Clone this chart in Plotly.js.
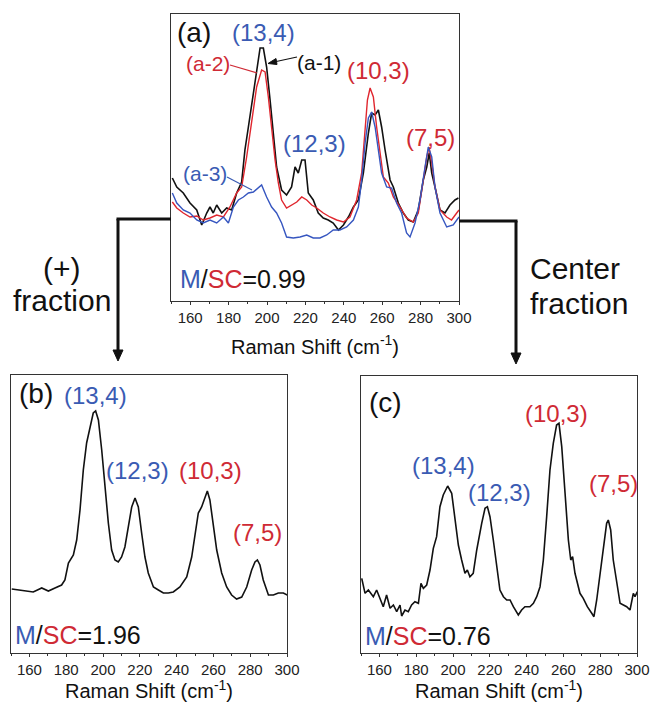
<!DOCTYPE html>
<html>
<head>
<meta charset="utf-8">
<script src="https://cdn.plot.ly/plotly-3.0.1.min.js"></script>
<style>html,body{margin:0;padding:0;background:#fff;}#chart{width:652px;height:702px;}</style>
</head>
<body>
<div id="chart"></div>
<script>
// ---------- Panel (a): three spectra ----------
var aX1 = [150.7,153.0,156.4,159.9,163.4,166.0,168.6,170.3,172.0,173.8,176.4,179.0,181.6,184.2,186.8,188.5,190.3,192.9,194.6,196.4,198.1,199.8,201.6,203.3,205.0,207.6,210.2,212.8,214.6,216.3,218.1,219.8,221.5,224.1,226.7,229.3,231.9,234.5,237.2,239.8,242.4,245.0,247.6,250.2,252.8,254.5,256.3,258.0,259.7,261.5,264.1,265.8,268.4,271.0,273.6,276.2,278.8,281.4,283.2,284.5,285.8,287.5,290.1,292.7,295.3,297.9,299.7];
var aY1 = [123,114,108,98,91,76,88,94,88,96,88,93,91,108,119,151,174,208,234,253,253,234,201,168,134,111,106,114,134,128,141,141,108,101,88,83,81,78,71,76,84,94,101,128,168,188,186,191,174,151,121,114,98,88,81,79,91,121,134,148,128,114,91,88,96,101,103];

var aX2 = [150.7,153.0,156.4,159.9,163.4,166.8,170.3,173.8,177.3,180.7,184.2,186.8,189.4,192.0,194.6,197.2,199.0,200.7,202.4,204.2,205.9,207.6,210.2,212.8,215.5,218.1,220.7,223.3,225.9,229.3,232.8,236.3,239.8,243.2,246.7,249.3,251.1,252.3,253.7,255.4,257.1,258.9,260.6,263.2,265.8,269.3,272.7,276.2,278.8,281.4,283.2,284.4,285.8,287.5,290.1,293.6,296.1,298.8,300.0];
var aY2 = [99,93,88,84,85,81,83,86,84,94,108,114,144,181,214,231,229,204,171,141,118,101,93,96,99,104,101,96,93,88,84,81,79,84,101,128,168,201,213,204,174,148,124,118,104,94,83,79,88,121,144,154,138,114,91,84,81,88,91];

var aX3 = [150.7,153.0,156.4,159.9,163.4,166.8,170.3,173.8,177.3,179.9,182.5,185.1,187.7,190.3,192.9,195.5,197.2,199.8,202.4,205.0,207.6,210.2,213.7,217.2,220.7,224.1,227.6,231.1,234.5,238.0,241.5,245.0,247.6,249.3,251.1,252.8,254.5,256.3,258.0,259.7,262.3,264.9,267.5,270.1,272.7,274.5,277.1,279.7,282.3,284.0,285.8,287.5,290.1,293.6,297.0,300.0];
var aY3 = [108,98,91,88,81,78,81,78,84,78,94,101,104,108,109,113,116,104,94,88,78,64,63,64,66,63,63,66,71,71,74,81,94,121,158,183,189,174,151,128,114,113,98,88,68,64,78,101,134,154,144,114,88,74,76,84];

// ---------- Panel (b): (+) fraction ----------
var bX = [150.4,154.9,160.3,162.1,166.7,170.3,173.9,177.5,179.3,181.2,183.9,185.7,187.5,189.3,191.1,192.9,194.7,196.0,197.5,199.3,201.1,202.9,204.7,206.5,208.3,210.1,211.9,213.8,215.6,217.4,219.2,221.0,222.8,224.6,227.4,230.1,232.8,235.5,238.2,241.8,245.5,248.2,250.0,251.8,253.6,255.4,256.7,258.1,259.9,261.8,264.5,267.2,269.9,272.6,275.4,278.1,280.8,282.6,283.9,285.3,287.1,289.9,292.6,295.3,298.0,300.2];
var bY = [64,63,62,61,65,62,65,68,73,90,98,113,143,183,210,226,240,242,233,203,166,130,103,93,91,96,106,126,146,155,146,120,96,80,66,63,60,60,61,66,76,96,120,140,146,155,162,153,130,103,80,66,58,54,56,66,83,91,93,88,73,58,58,60,60,58];

// ---------- Panel (c): center fraction ----------
var cX = [150.4,152.2,154.0,156.7,158.5,160.3,162.1,163.9,165.8,167.6,169.4,171.2,172.1,173.9,175.7,177.5,179.3,181.2,182.6,183.9,185.7,187.5,189.3,191.1,192.9,194.7,197.1,199.3,201.1,202.9,204.7,206.5,207.8,209.2,211.0,212.9,215.6,217.4,218.7,220.1,221.9,223.7,225.5,227.4,229.2,231.0,232.8,235.5,237.3,239.1,241.8,243.7,245.5,247.3,249.1,250.9,252.7,254.5,256.3,257.6,259.1,260.9,262.7,264.0,265.0,266.3,269.0,270.8,273.0,275.4,276.6,278.1,279.9,281.7,283.5,284.4,285.7,287.1,288.9,290.8,292.6,294.4,296.2,298.0,298.9,300.2];
var cY = [74.7,59.7,63,56.3,63,54.7,46.3,58,44.7,48,41.3,48,37,43,41.3,48,51.3,49.7,69.7,64.7,68,83,104.7,116.3,146.3,158,167,159.7,136.3,108,93,79.7,83,76.3,79.7,103,129.7,144.7,146.3,136.3,113,86.3,63,56.3,53,53,46.3,38,43,46.3,46.3,49.7,56.3,66.3,93,136.3,183,209.7,228,229.7,206.3,159.7,113,93,96.3,79.7,59.7,54.7,46.3,39.7,36.3,53,79.7,106.3,129.7,133,123,93,69.7,49.7,48,46.3,43,59.7,56.3,61.3];

var xTickStep = 20;
var xMinorStep = 10;
var xRange = [150, 300];
var axisTitle = 'Raman Shift (cm<sup>-1</sup>)';

var BLUE = '#3a5bb3', RED = '#cf2a35';
var FONT = 'Liberation Sans, Arial, Helvetica, sans-serif';
var W = 652, H = 702;
function px(x){ return x / W; }
function py(y){ return 1 - y / H; }

function xAxis(dom, anchor, standoff){
  return {
    domain: dom, anchor: anchor, range: xRange, showgrid: false, zeroline: false,
    showline: true, mirror: true, linecolor: '#333', linewidth: 1,
    ticks: 'outside', ticklen: 3, tickwidth: 1, tickcolor: '#333',
    tick0: 0, dtick: xTickStep,
    minor: {dtick: xMinorStep, ticks: 'outside', ticklen: 2, tickcolor: '#333'},
    tickfont: {family: FONT, size: 15, color: '#222'},
    title: {text: axisTitle, font: {family: FONT, size: 20, color: '#111'}, standoff: standoff}
  };
}
function yAxis(dom, anchor, rng){
  return {
    domain: dom, anchor: anchor, range: rng, showgrid: false, zeroline: false,
    showline: true, mirror: true, linecolor: '#333', linewidth: 1,
    ticks: '', showticklabels: false
  };
}

var traces = [
  {x: aX1, y: aY1, xaxis: 'x', yaxis: 'y', mode: 'lines', line: {color: '#111', width: 1.6}, name: 'a-1'},
  {x: aX2, y: aY2, xaxis: 'x', yaxis: 'y', mode: 'lines', line: {color: '#e0262e', width: 1.4}, name: 'a-2'},
  {x: aX3, y: aY3, xaxis: 'x', yaxis: 'y', mode: 'lines', line: {color: '#3656c0', width: 1.4}, name: 'a-3'},
  {x: bX, y: bY, xaxis: 'x2', yaxis: 'y2', mode: 'lines', line: {color: '#111', width: 1.6}, name: 'b'},
  {x: cX, y: cY, xaxis: 'x3', yaxis: 'y3', mode: 'lines', line: {color: '#111', width: 1.6}, name: 'c'}
];

function lab(text, xr, yr, x, y, size, color, xanchor){
  return {text: text, xref: xr, yref: yr, x: x, y: y, showarrow: false,
          xanchor: xanchor || 'center', yanchor: 'middle',
          font: {family: FONT, size: size, color: color}};
}
function ms(v){ return '<span style="color:' + BLUE + '">M</span>/<span style="color:' + RED + '">SC</span>=' + v; }

var annotations = [
  lab('(a)', 'x', 'y', 152.1, 269, 28, '#111', 'left'),
  lab('(13,4)', 'x', 'y', 198.4, 269, 24, BLUE),
  lab('(a-1)', 'x', 'y', 227.1, 239, 21, '#111'),
  lab('(a-2)', 'x', 'y', 169.3, 238, 21, RED),
  lab('(a-3)', 'x', 'y', 167.7, 128, 21, BLUE),
  lab('(12,3)', 'x', 'y', 224.5, 158, 24, BLUE),
  lab('(10,3)', 'x', 'y', 258.3, 231, 24, RED),
  lab('(7,5)', 'x', 'y', 284.9, 164, 24, RED),
  lab(ms('0.99'), 'x', 'y', 153.6, 22, 25, '#111', 'left'),

  lab('(b)', 'x2', 'y2', 153.3, 260, 28, '#111', 'left'),
  lab('(13,4)', 'x2', 'y2', 195.7, 258, 24, BLUE),
  lab('(12,3)', 'x2', 'y2', 218.5, 183, 24, BLUE),
  lab('(10,3)', 'x2', 'y2', 258.2, 183, 24, RED),
  lab('(7,5)', 'x2', 'y2', 284.2, 121, 24, RED),
  lab(ms('1.96'), 'x2', 'y2', 151.1, 18, 25, '#111', 'left'),

  lab('(c)', 'x3', 'y3', 153.3, 251, 28, '#111', 'left'),
  lab('(13,4)', 'x3', 'y3', 194.6, 188, 24, BLUE),
  lab('(12,3)', 'x3', 'y3', 225.0, 161, 24, BLUE),
  lab('(10,3)', 'x3', 'y3', 256.0, 240, 24, RED),
  lab('(7,5)', 'x3', 'y3', 287.0, 170, 24, RED),
  lab(ms('0.76'), 'x3', 'y3', 151.1, 17, 25, '#111', 'left'),

  lab('(+)', 'paper', 'paper', px(62), py(268), 30, '#111'),
  lab('fraction', 'paper', 'paper', px(62), py(300), 30, '#111'),
  lab('Center', 'paper', 'paper', px(528), py(268), 30, '#111', 'left'),
  lab('fraction', 'paper', 'paper', px(528), py(303), 30, '#111', 'left')
];

function pline(x0, y0, x1, y1, color, w){
  return {type: 'line', xref: 'paper', yref: 'paper', x0: px(x0), y0: py(y0), x1: px(x1), y1: py(y1),
          line: {color: color, width: w}};
}
function poly(pts, color){
  var d = pts.map(function(p, i){ return (i ? 'L' : 'M') + px(p[0]) + ',' + py(p[1]); }).join(' ') + ' Z';
  return {type: 'path', xref: 'paper', yref: 'paper', path: d, fillcolor: color, line: {color: color, width: 1}};
}
var shapes = [
  pline(230, 65, 257, 73, RED, 1.2),
  pline(227, 177, 252, 190, BLUE, 1.2),
  pline(297, 57, 274, 62, '#111', 1.2),
  poly([[268, 63.5], [276, 58.5], [277, 64.5]], '#111'),
  pline(171, 219, 116.5, 219, '#111', 3),
  pline(118, 219, 118, 352, '#111', 3),
  poly([[113, 350], [123, 350], [118, 361]], '#111'),
  pline(459, 221, 517.5, 221, '#111', 3),
  pline(516, 221, 516, 355, '#111', 3),
  poly([[511, 353], [521, 353], [516, 364]], '#111')
];

var layout = {
  width: W, height: H, margin: {l: 0, r: 0, t: 0, b: 0},
  paper_bgcolor: '#fff', plot_bgcolor: '#fff', showlegend: false,
  font: {family: FONT},
  xaxis: xAxis([px(171), px(459)], 'y', 14),
  yaxis: yAxis([py(301), py(14)], 'x', [0, 287]),
  xaxis2: xAxis([px(11), px(287)], 'y2', 9),
  yaxis2: yAxis([py(653), py(375)], 'x2', [0, 278]),
  xaxis3: xAxis([px(361), px(637)], 'y3', 9),
  yaxis3: yAxis([py(653), py(376)], 'x3', [0, 277]),
  annotations: annotations,
  shapes: shapes
};

Plotly.newPlot('chart', traces, layout, {displayModeBar: false, staticPlot: true});
</script>
</body>
</html>
